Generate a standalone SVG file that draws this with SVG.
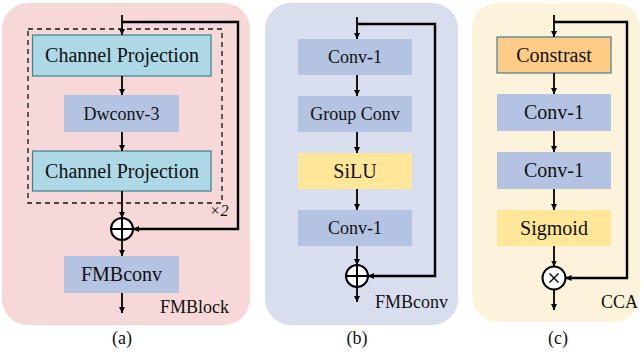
<svg xmlns="http://www.w3.org/2000/svg" width="643" height="352" viewBox="0 0 643 352">
<style>
text{font-family:"Liberation Serif","Times New Roman",serif;fill:#111;text-anchor:middle}
.t18{font-size:18px}.t20{font-size:20px}
.lav{fill:#B4C3E1}
.cp{fill:#ADD8E6;stroke:#3F7F93;stroke-width:1.2}
.yel{fill:#FFE699}
.org{fill:#FFCC88;stroke:#3F7F93;stroke-width:1.2}
.ar{stroke:#000;stroke-width:1.8;fill:none;marker-end:url(#ah)}
.sk{stroke:#000;stroke-width:2.4;fill:none;marker-end:url(#ah)}
.op{fill:#fff;stroke:#000;stroke-width:2}
</style>
<defs>
<marker id="ah" viewBox="0 0 10 10" refX="10" refY="5" markerWidth="6" markerHeight="6" markerUnits="userSpaceOnUse" orient="auto">
<path d="M0,0 L10,5 L0,10 z" fill="#000"/>
</marker>
</defs>
<g id="panel-a">
<rect x="2" y="3" width="248" height="322" rx="26" fill="#F6D8D8"/>
<rect x="28" y="29" width="194" height="174" fill="none" stroke="#111" stroke-width="1.3" stroke-dasharray="5,4"/>
<text x="219" y="216" font-size="16" font-style="italic">×2</text>
<text x="229" y="313" class="t18" style="text-anchor:end">FMBlock</text>
<text x="122" y="344" class="t18">(a)</text>
</g>
<g id="cp1"><rect class="cp" x="32.5" y="35" width="178.5" height="41"/><text x="122" y="62" class="t20">Channel Projection</text></g>
<g id="dw"><rect class="lav" x="64" y="95" width="115" height="37"/><text x="121.5" y="120" class="t18">Dwconv-3</text></g>
<g id="cp2"><rect class="cp" x="32.5" y="151" width="178.5" height="40"/><text x="122" y="178" class="t20">Channel Projection</text></g>
<g id="add-a"><circle class="op" cx="122" cy="229" r="11"/><path d="M111,229H133M122,218V240" stroke="#000" stroke-width="2"/></g>
<g id="fmb-a"><rect class="lav" x="64" y="256" width="115" height="37"/><text x="121.5" y="281" class="t20">FMBconv</text></g>

<g id="panel-b">
<rect x="265" y="3" width="193" height="322" rx="26" fill="#D9DEEF"/>
<text x="448" y="308" class="t18" style="text-anchor:end">FMBconv</text>
<text x="357" y="344" class="t18">(b)</text>
</g>
<g id="b1"><rect class="lav" x="298" y="39" width="114" height="36"/><text x="355" y="63" class="t18">Conv-1</text></g>
<g id="b2"><rect class="lav" x="298" y="96" width="114" height="36"/><text x="355" y="120" class="t18">Group Conv</text></g>
<g id="b3"><rect class="yel" x="298" y="153" width="114" height="36"/><text x="355" y="178" class="t20">SiLU</text></g>
<g id="b4"><rect class="lav" x="298" y="210" width="114" height="36"/><text x="355" y="234" class="t18">Conv-1</text></g>
<g id="add-b"><circle class="op" cx="357" cy="276" r="11"/><path d="M346,276H368M357,265V287" stroke="#000" stroke-width="2"/></g>

<g id="panel-c">
<rect x="472" y="3" width="168" height="319" rx="26" fill="#FDF3DA"/>
<text x="638" y="308" class="t18" style="text-anchor:end">CCA</text>
<text x="558" y="344" class="t18">(c)</text>
</g>
<g id="c1"><rect class="org" x="497" y="37" width="114" height="36"/><text x="554" y="62" class="t20">Constrast</text></g>
<g id="c2"><rect class="lav" x="497" y="94" width="114" height="37"/><text x="554" y="119" class="t20">Conv-1</text></g>
<g id="c3"><rect class="lav" x="497" y="152" width="114" height="37"/><text x="554" y="177" class="t20">Conv-1</text></g>
<g id="c4"><rect class="yel" x="497" y="210" width="114" height="36"/><text x="554" y="235" class="t20">Sigmoid</text></g>
<g id="mul-c"><circle class="op" cx="554" cy="278" r="11.5"/><path d="M549.5,273.5L558.5,282.5M558.5,273.5L549.5,282.5" stroke="#000" stroke-width="1.4"/></g>

<g id="connectors">
<path class="ar" d="M122,15V35"/>
<path class="sk" d="M122,22H238V229H133"/>
<path class="ar" d="M122,76V95"/>
<path class="ar" d="M122,132V151"/>
<path class="ar" d="M122,191V218"/>
<path class="ar" d="M122,240V256"/>
<path class="ar" d="M122,293V313"/>

<path class="ar" d="M357,17V39"/>
<path class="sk" d="M357,24H435V276H368"/>
<path class="ar" d="M357,75V96"/>
<path class="ar" d="M357,132V153"/>
<path class="ar" d="M357,189V210"/>
<path class="ar" d="M357,246V265"/>
<path class="ar" d="M357,287V302"/>

<path class="ar" d="M554,15V37"/>
<path class="sk" d="M554,22H627V278H565.5"/>
<path class="ar" d="M554,73V94"/>
<path class="ar" d="M554,131V152"/>
<path class="ar" d="M554,189V210"/>
<path class="ar" d="M554,246V266.5"/>
<path class="ar" d="M554,289.5V310"/>
</g>
</svg>
